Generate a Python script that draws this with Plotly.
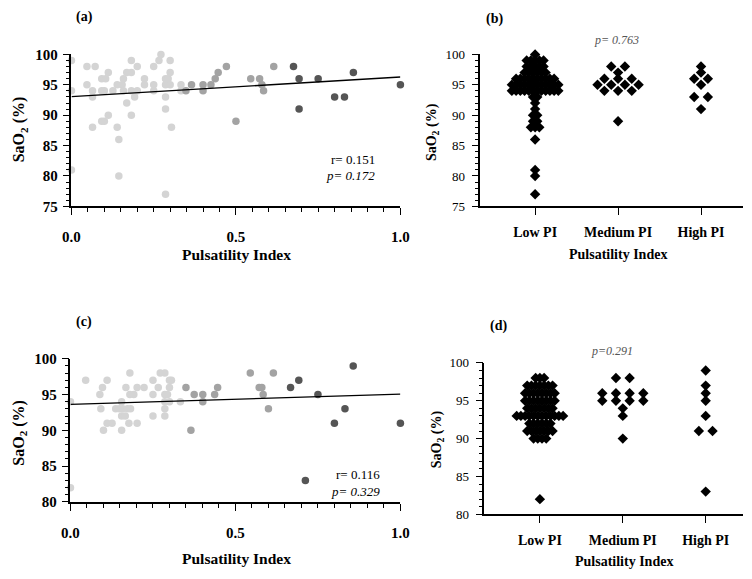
import numpy as np
import plotly.graph_objects as go

W, H = 752, 579
serif = "Liberation Serif"

# ---- (a) PI vs SaO2, scatter, grouped by PI class
a_low_pi = [0.0, 0.0, 0.0, 0.047, 0.047, 0.064, 0.064, 0.064, 0.072, 0.092, 0.092, 0.092,
            0.10, 0.10, 0.104, 0.112, 0.112, 0.126, 0.139, 0.139, 0.144, 0.144, 0.154,
            0.158, 0.158, 0.168, 0.168, 0.182, 0.182, 0.182, 0.182, 0.192, 0.20, 0.20,
            0.222, 0.222, 0.25, 0.25, 0.25, 0.266, 0.272, 0.286, 0.286, 0.286, 0.286,
            0.286, 0.294, 0.30, 0.30, 0.30, 0.304, 0.333, 0.333]
a_low_sao2 = [99, 94, 81, 98, 95, 94, 93, 88, 98, 96, 94, 89,
              94, 89, 96, 97, 90, 94, 95, 88, 86, 80, 95,
              96, 94, 97, 92, 99, 97, 94, 90, 93, 98, 94,
              96, 95, 98, 95, 94, 99, 100, 96, 95, 93, 91,
              77, 96, 99, 97, 95, 88, 95, 94]
a_med_pi = [0.348, 0.365, 0.40, 0.40, 0.424, 0.437, 0.446, 0.471, 0.50, 0.545, 0.572, 0.579, 0.584, 0.615]
a_med_sao2 = [94, 95, 95, 94, 95, 96, 97, 98, 89, 96, 96, 95, 94, 98]
a_high_pi = [0.675, 0.692, 0.692, 0.75, 0.80, 0.83, 0.857, 1.0]
a_high_sao2 = [98, 96, 91, 96, 93, 93, 97, 95]

# ---- (c) second measurement
c_low_pi = [0.0, 0.0, 0.046, 0.089, 0.092, 0.097, 0.10, 0.111, 0.111, 0.126, 0.137, 0.148,
            0.158, 0.173, 0.182, 0.155, 0.155, 0.166, 0.155, 0.168, 0.18, 0.18, 0.192,
            0.177, 0.202, 0.202, 0.223, 0.25, 0.25, 0.25, 0.266, 0.272, 0.286, 0.286,
            0.294, 0.286, 0.30, 0.286, 0.286, 0.30, 0.306, 0.30, 0.333]
c_low_sao2 = [94, 82, 97, 95, 93, 96, 90, 97, 91, 91, 93, 93,
              93, 93, 93, 94, 92, 92, 90, 96, 98, 95, 95,
              91, 96, 91, 96, 97, 95, 92, 96, 98, 98, 95,
              95, 94, 94, 93, 92, 97, 97, 96, 94]
c_med_pi = [0.35, 0.365, 0.375, 0.401, 0.401, 0.437, 0.446, 0.545, 0.572, 0.58, 0.584, 0.60, 0.615]
c_med_sao2 = [96, 90, 95, 95, 94, 95, 96, 98, 96, 96, 95, 93, 98]
c_high_pi = [0.667, 0.692, 0.712, 0.75, 0.80, 0.832, 0.857, 1.0]
c_high_sao2 = [96, 97, 83, 95, 91, 93, 99, 91]

# ---- (b) and (d) dot plots: SaO2 value and how many patients have it
groups = ["Low PI", "Medium PI", "High PI"]
b_low_vals = [100, 99, 98, 97, 96, 95, 94, 93, 92, 91, 90, 89, 88, 86, 81, 80, 77]
b_low_counts = [1, 5, 5, 6, 10, 12, 12, 2, 1, 1, 2, 2, 3, 1, 1, 1, 1]
b_med_vals = [98, 97, 96, 95, 94, 89]
b_med_counts = [2, 1, 3, 4, 3, 1]
b_high_vals = [98, 97, 96, 95, 93, 91]
b_high_counts = [1, 1, 2, 1, 2, 1]
d_low_vals = [98, 97, 96, 95, 94, 93, 92, 91, 90, 82]
d_low_counts = [3, 7, 8, 8, 7, 12, 6, 7, 4, 1]
d_med_vals = [98, 96, 95, 94, 93, 90]
d_med_counts = [2, 4, 4, 1, 1, 1]
d_high_vals = [99, 97, 96, 95, 93, 91, 83]
d_high_counts = [1, 1, 1, 1, 1, 2, 1]

stats_a = ("0.151", "0.172")
stats_c = ("0.116", "0.329")
p_b = "0.763"
p_d = "0.291"

col_low, col_med, col_high = "#d4d4d4", "#a3a3a3", "#555555"


def X(px):
    return px / W


def Y(py):
    return 1 - py / H


def swarm(idx, vals, counts):
    # spread equal values sideways, squeezing the big groups
    nmax = max(counts)
    step = 0.165 if nmax < 2 else min(0.165, 0.56 / (nmax - 1))
    xs, ys = [], []
    for v, n in zip(vals, counts):
        for i in range(n):
            xs.append(idx + (i - (n - 1) / 2) * step)
            ys.append(v)
    return xs, ys


fig = go.Figure()

# scatter panels
for ax, sets in [("", [(a_low_pi, a_low_sao2, col_low), (a_med_pi, a_med_sao2, col_med),
                      (a_high_pi, a_high_sao2, col_high)]),
                 ("3", [(c_low_pi, c_low_sao2, col_low), (c_med_pi, c_med_sao2, col_med),
                        (c_high_pi, c_high_sao2, col_high)])]:
    allx, ally = [], []
    for px, sy, col in sets:
        fig.add_trace(go.Scatter(x=px, y=sy, mode="markers", xaxis="x" + ax, yaxis="y" + ax,
                                 marker=dict(color=col, size=7.5), cliponaxis=False,
                                 showlegend=False))
        allx += px
        ally += sy
    k, b0 = np.polyfit(allx, ally, 1)
    fig.add_trace(go.Scatter(x=[0, 1], y=[b0, b0 + k], mode="lines", xaxis="x" + ax, yaxis="y" + ax,
                             line=dict(color="black", width=1.3), showlegend=False))

# dot plots
for ax, sets in [("2", [(b_low_vals, b_low_counts), (b_med_vals, b_med_counts), (b_high_vals, b_high_counts)]),
                 ("4", [(d_low_vals, d_low_counts), (d_med_vals, d_med_counts), (d_high_vals, d_high_counts)])]:
    for i, (vals, counts) in enumerate(sets):
        xs, ys = swarm(i, vals, counts)
        fig.add_trace(go.Scatter(x=xs, y=ys, mode="markers", xaxis="x" + ax, yaxis="y" + ax,
                                 marker=dict(symbol="diamond", color="black", size=8),
                                 cliponaxis=False, showlegend=False))

bold_tick = dict(family=serif, size=15, color="black", weight="bold")
cat_tick = dict(family=serif, size=14, color="black", weight="bold")
reg_tick = dict(family=serif, size=13, color="black")
line_kw = dict(showline=True, linecolor="black", linewidth=1.5, showgrid=False, zeroline=False,
               ticks="outside", tickcolor="black", tickwidth=1.3, ticklen=7)
ymin_kw = dict(minor=dict(dtick=1, ticks="outside", ticklen=4, tickcolor="black", tickwidth=1))
xmin_kw = dict(minor=dict(dtick=0.05, ticks="outside", ticklen=4, tickcolor="black", tickwidth=1))

fig.update_layout(
    width=W, height=H, margin=dict(l=0, r=0, t=0, b=0),
    paper_bgcolor="white", plot_bgcolor="white",
    xaxis=dict(domain=[X(64), X(401)], range=[0, 1], anchor="y", tickvals=[0, 0.5, 1],
               ticktext=["0.0", "0.5", "1.0"], tickfont=bold_tick, ticklabelstandoff=9,
               **line_kw, **xmin_kw),
    yaxis=dict(domain=[Y(204), Y(47.7)], range=[75, 100], anchor="x", dtick=5,
               tickfont=bold_tick, ticklabelstandoff=2, **line_kw, **ymin_kw),
    xaxis2=dict(domain=[X(483), 1], range=[-0.659, 2.506], anchor="y2", tickvals=[0, 1, 2],
                ticktext=groups, tickfont=cat_tick, ticklabelstandoff=5, **line_kw),
    yaxis2=dict(domain=[Y(204), Y(47.7)], range=[75, 100], anchor="x2", dtick=5,
                tickfont=reg_tick, ticklabelstandoff=4, **line_kw, **ymin_kw),
    xaxis3=dict(domain=[X(63), X(401)], range=[0, 1], anchor="y3", tickvals=[0, 0.5, 1],
                ticktext=["0.0", "0.5", "1.0"], tickfont=bold_tick, ticklabelstandoff=9,
                **line_kw, **xmin_kw),
    yaxis3=dict(domain=[Y(508), Y(360.7)], range=[80, 100], anchor="x3", dtick=5,
                tickfont=bold_tick, ticklabelstandoff=2, **line_kw, **ymin_kw),
    xaxis4=dict(domain=[X(487), 1], range=[-0.67, 2.45], anchor="y4", tickvals=[0, 1, 2],
                ticktext=groups, tickfont=cat_tick, ticklabelstandoff=5, **line_kw),
    yaxis4=dict(domain=[Y(520.7), Y(365)], range=[80, 100], anchor="x4", dtick=5,
                tickfont=reg_tick, ticklabelstandoff=4, **line_kw, **ymin_kw),
)


def note(x, y, text, size=14, color="black", xanchor="center", angle=0):
    fig.add_annotation(x=X(x), y=Y(y), xref="paper", yref="paper", text=text, showarrow=False,
                       xanchor=xanchor, yanchor="middle", textangle=angle,
                       font=dict(family=serif, size=size, color=color))


sao2 = "<b>SaO<sub>2</sub> (%)</b>"
pi_title = "<b>Pulsatility Index</b>"
# panel letters
note(77, 9, "<b>(a)</b>", 14)
note(497, 11, "<b>(b)</b>", 14)
note(77, 323, "<b>(c)</b>", 14)
note(501, 327, "<b>(d)</b>", 14)
# axis titles
note(11, 125, sao2, 16, angle=-90)
note(233, 253, pi_title, 15.5)
note(434, 128, sao2, 14, angle=-90)
note(624, 253, pi_title, 14)
note(11, 437, sao2, 16, angle=-90)
note(233, 566, pi_title, 15.5)
note(439, 443, sao2, 14, angle=-90)
note(630, 569, pi_title, 14)
# statistics
note(377, 156, "r= " + stats_a[0], 13, xanchor="right")
note(377, 172, "<i>p= " + stats_a[1] + "</i>", 13, xanchor="right")
note(382, 480, "r= " + stats_c[0], 13, xanchor="right")
note(382, 497, "<i>p= " + stats_c[1] + "</i>", 13, xanchor="right")
note(622, 33, "<i>p= " + p_b + "</i>", 12, color="#555555")
note(618, 353, "<i>p=" + p_d + "</i>", 12, color="#555555")

fig.write_html("out.html", config={"displayModeBar": False},
               post_script="document.body.style.margin='0';document.body.style.overflow='hidden';")
